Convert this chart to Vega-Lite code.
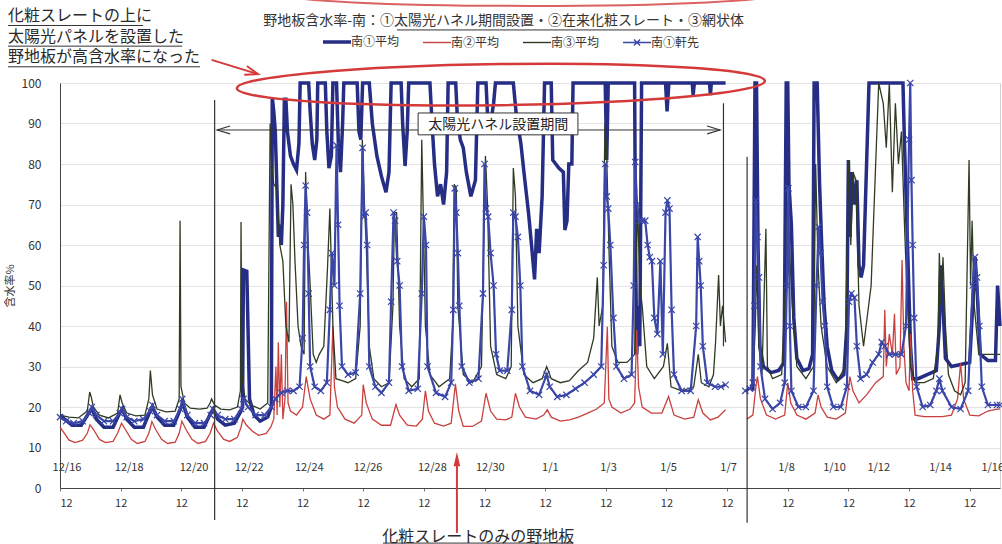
{
  "$schema": "https://vega.github.io/schema/vega-lite/v6.json",
  "width": 940,
  "height": 405,
  "autosize": "none",
  "padding": {"left": 60, "top": 83, "right": 2, "bottom": 56},
  "background": "white",
  "config": {"font": "Noto Sans CJK JP", "view": {"stroke": "#d0d0d0"}},
  "datasets": {
    "navy": [{"d":0,"v":18},{"d":0.15,"v":17},{"d":0.4,"v":15.5},{"d":0.7,"v":15.5},{"d":0.95,"v":18.5},{"d":1.05,"v":19.5},{"d":1.2,"v":17},{"d":1.45,"v":15},{"d":1.75,"v":15},{"d":1.97,"v":18.5},{"d":2.05,"v":19.5},{"d":2.2,"v":17},{"d":2.45,"v":15},{"d":2.75,"v":15},{"d":2.97,"v":19},{"d":3.05,"v":20},{"d":3.2,"v":17.5},{"d":3.45,"v":15.5},{"d":3.75,"v":15.5},{"d":3.97,"v":19.5},{"d":4.05,"v":21},{"d":4.2,"v":17.5},{"d":4.45,"v":15},{"d":4.75,"v":15},{"d":4.97,"v":18.5},{"d":5.05,"v":19.5},{"d":5.2,"v":17},{"d":5.45,"v":15.5},{"d":5.75,"v":16},{"d":5.97,"v":19},{"d":6.02,"v":20},{"d":6.05,"v":53.8},{"d":6.16,"v":53.5},{"d":6.25,"v":22},{"d":6.4,"v":18},{"d":6.6,"v":16.5},{"d":6.85,"v":17.5},{"d":6.97,"v":20},{"d":7.0,"v":96.5},{"d":7.05,"v":93},{"d":7.1,"v":88},{"d":7.15,"v":75},{"d":7.2,"v":62},{"d":7.25,"v":65},{"d":7.3,"v":60},{"d":7.35,"v":70},{"d":7.4,"v":96},{"d":7.45,"v":96},{"d":7.5,"v":88},{"d":7.6,"v":82},{"d":7.7,"v":80},{"d":7.8,"v":78.5},{"d":7.88,"v":85},{"d":7.92,"v":100},{"d":8.2,"v":100},{"d":8.25,"v":93},{"d":8.32,"v":85},{"d":8.4,"v":81},{"d":8.47,"v":86},{"d":8.5,"v":100},{"d":8.75,"v":100},{"d":8.8,"v":88},{"d":8.87,"v":79},{"d":8.95,"v":82},{"d":9.0,"v":100},{"d":9.12,"v":100},{"d":9.18,"v":85},{"d":9.25,"v":78},{"d":9.32,"v":90},{"d":9.36,"v":100},{"d":9.8,"v":100},{"d":9.86,"v":88},{"d":9.92,"v":86},{"d":9.98,"v":100},{"d":10.2,"v":100},{"d":10.3,"v":90},{"d":10.45,"v":82},{"d":10.6,"v":77},{"d":10.75,"v":73},{"d":10.85,"v":78},{"d":10.92,"v":100},{"d":11.25,"v":100},{"d":11.3,"v":90},{"d":11.38,"v":79.5},{"d":11.45,"v":88},{"d":11.5,"v":100},{"d":12.2,"v":100},{"d":12.27,"v":90},{"d":12.35,"v":80},{"d":12.45,"v":72},{"d":12.55,"v":75},{"d":12.65,"v":70},{"d":12.75,"v":78},{"d":12.8,"v":100},{"d":13.05,"v":100},{"d":13.1,"v":92},{"d":13.2,"v":86},{"d":13.3,"v":84},{"d":13.4,"v":78},{"d":13.55,"v":72},{"d":13.7,"v":76},{"d":13.78,"v":100},{"d":14.05,"v":100},{"d":14.1,"v":92},{"d":14.2,"v":90},{"d":14.3,"v":95},{"d":14.36,"v":100},{"d":14.95,"v":100},{"d":15.05,"v":92},{"d":15.2,"v":85},{"d":15.3,"v":78},{"d":15.45,"v":68},{"d":15.55,"v":60},{"d":15.65,"v":51.5},{"d":15.72,"v":64},{"d":15.8,"v":58},{"d":15.9,"v":72},{"d":15.98,"v":100},{"d":16.2,"v":100},{"d":16.25,"v":81},{"d":16.45,"v":79},{"d":16.6,"v":78},{"d":16.65,"v":63.7},{"d":16.72,"v":66},{"d":16.78,"v":80},{"d":16.88,"v":80},{"d":16.92,"v":100},{"d":17.98,"v":100},{"d":18.03,"v":81},{"d":18.08,"v":100},{"d":18.95,"v":100},{"d":18.98,"v":60},{"d":19.02,"v":33},{"d":19.08,"v":45},{"d":19.12,"v":35},{"d":19.18,"v":100},{"d":19.97,"v":100},{"d":20.02,"v":93},{"d":20.08,"v":100},{"d":20.85,"v":100},{"d":20.88,"v":97},{"d":20.92,"v":100},{"d":21.42,"v":100},{"d":21.45,"v":97},{"d":21.48,"v":100},{"d":21.95,"v":100},{"d":22.3,"v":null},{"d":22.85,"v":24},{"d":22.92,"v":100},{"d":22.97,"v":100},{"d":23.02,"v":60},{"d":23.08,"v":35},{"d":23.2,"v":30},{"d":23.45,"v":28.5},{"d":23.7,"v":29},{"d":23.88,"v":31},{"d":23.95,"v":100},{"d":24.0,"v":100},{"d":24.04,"v":75},{"d":24.12,"v":65},{"d":24.2,"v":42},{"d":24.3,"v":32},{"d":24.5,"v":29},{"d":24.7,"v":29.5},{"d":24.82,"v":33},{"d":24.87,"v":100},{"d":24.97,"v":100},{"d":25.05,"v":75},{"d":25.12,"v":60},{"d":25.2,"v":45},{"d":25.3,"v":35},{"d":25.45,"v":29},{"d":25.65,"v":26.7},{"d":25.85,"v":28},{"d":25.95,"v":40},{"d":26.0,"v":81},{"d":26.05,"v":62},{"d":26.12,"v":78},{"d":26.2,"v":70},{"d":26.28,"v":76},{"d":26.35,"v":55},{"d":26.42,"v":52},{"d":26.5,"v":55},{"d":26.6,"v":80},{"d":26.68,"v":100},{"d":27.8,"v":100},{"d":27.85,"v":85},{"d":27.95,"v":60},{"d":28.05,"v":35},{"d":28.12,"v":27},{"d":28.3,"v":27},{"d":28.6,"v":28},{"d":28.9,"v":29},{"d":29.0,"v":40},{"d":29.05,"v":55},{"d":29.12,"v":45},{"d":29.2,"v":32},{"d":29.4,"v":30},{"d":29.7,"v":30.5},{"d":30.0,"v":31},{"d":30.1,"v":45},{"d":30.18,"v":57},{"d":30.25,"v":48},{"d":30.35,"v":33},{"d":30.6,"v":31.5},{"d":30.85,"v":31.5},{"d":30.92,"v":50},{"d":31,"v":40}],
    "red": [{"d":0,"v":15},{"d":0.1,"v":14},{"d":0.3,"v":11.8},{"d":0.5,"v":11.2},{"d":0.75,"v":11.8},{"d":0.9,"v":13.5},{"d":0.99,"v":15.6},{"d":1.1,"v":14.5},{"d":1.3,"v":12},{"d":1.5,"v":11.2},{"d":1.75,"v":11.5},{"d":1.9,"v":13.5},{"d":2.03,"v":16},{"d":2.15,"v":14.5},{"d":2.35,"v":12},{"d":2.55,"v":11},{"d":2.8,"v":11.5},{"d":2.93,"v":13.5},{"d":3.03,"v":16.4},{"d":3.15,"v":14.5},{"d":3.35,"v":12},{"d":3.55,"v":11},{"d":3.8,"v":11.3},{"d":3.93,"v":13.5},{"d":4.02,"v":16.5},{"d":4.15,"v":14.5},{"d":4.35,"v":12},{"d":4.55,"v":11},{"d":4.8,"v":11.5},{"d":4.95,"v":13.5},{"d":5.06,"v":16},{"d":5.2,"v":14},{"d":5.4,"v":12},{"d":5.6,"v":11.5},{"d":5.85,"v":12.5},{"d":5.97,"v":15},{"d":6.03,"v":17},{"d":6.15,"v":15.5},{"d":6.35,"v":14},{"d":6.55,"v":13},{"d":6.8,"v":13.5},{"d":6.95,"v":15},{"d":7.05,"v":17},{"d":7.12,"v":30},{"d":7.16,"v":18},{"d":7.2,"v":36},{"d":7.25,"v":20},{"d":7.3,"v":33},{"d":7.35,"v":17},{"d":7.42,"v":22},{"d":7.47,"v":46},{"d":7.52,"v":21},{"d":7.6,"v":19},{"d":7.8,"v":18},{"d":8.0,"v":20},{"d":8.12,"v":27.5},{"d":8.25,"v":22},{"d":8.45,"v":18},{"d":8.7,"v":17},{"d":8.9,"v":18},{"d":9.0,"v":40},{"d":9.05,"v":25},{"d":9.15,"v":20},{"d":9.4,"v":17},{"d":9.7,"v":16},{"d":9.95,"v":18},{"d":10.0,"v":25.5},{"d":10.1,"v":21},{"d":10.3,"v":17},{"d":10.6,"v":15.5},{"d":10.9,"v":15.5},{"d":11.08,"v":20.6},{"d":11.2,"v":18},{"d":11.45,"v":15.5},{"d":11.75,"v":15.3},{"d":11.95,"v":17},{"d":12.05,"v":24},{"d":12.15,"v":19},{"d":12.35,"v":16},{"d":12.65,"v":15.3},{"d":12.9,"v":16},{"d":13.04,"v":25.7},{"d":13.15,"v":19},{"d":13.3,"v":15.2},{"d":13.6,"v":15.2},{"d":13.9,"v":16.5},{"d":14.05,"v":23.4},{"d":14.2,"v":19},{"d":14.4,"v":17},{"d":14.7,"v":16.8},{"d":14.9,"v":17.5},{"d":15.02,"v":23.4},{"d":15.15,"v":20},{"d":15.35,"v":17.5},{"d":15.7,"v":17},{"d":15.95,"v":18},{"d":16.07,"v":19.3},{"d":16.2,"v":17.5},{"d":16.5,"v":16.5},{"d":16.8,"v":16.8},{"d":17.1,"v":17.5},{"d":17.4,"v":18.5},{"d":17.7,"v":19.5},{"d":17.95,"v":21},{"d":18.05,"v":39.8},{"d":18.1,"v":22},{"d":18.2,"v":20},{"d":18.5,"v":18.5},{"d":18.8,"v":19.5},{"d":18.95,"v":21},{"d":19.02,"v":39},{"d":19.08,"v":25},{"d":19.2,"v":20},{"d":19.5,"v":18.5},{"d":19.85,"v":18.5},{"d":20.07,"v":22.6},{"d":20.25,"v":18},{"d":20.6,"v":17},{"d":20.9,"v":17.5},{"d":21.05,"v":21.8},{"d":21.2,"v":18.5},{"d":21.45,"v":16.8},{"d":21.7,"v":17.5},{"d":21.95,"v":19.3},{"d":22.3,"v":null},{"d":22.65,"v":17},{"d":22.85,"v":18},{"d":22.95,"v":25},{"d":23.0,"v":27.5},{"d":23.1,"v":22},{"d":23.3,"v":18},{"d":23.6,"v":17},{"d":23.9,"v":18},{"d":24.0,"v":26},{"d":24.1,"v":21},{"d":24.3,"v":18},{"d":24.6,"v":17},{"d":24.9,"v":18.5},{"d":25.0,"v":23},{"d":25.1,"v":20},{"d":25.3,"v":17.5},{"d":25.6,"v":17},{"d":25.9,"v":18.5},{"d":26.05,"v":27.5},{"d":26.15,"v":24},{"d":26.35,"v":21},{"d":26.6,"v":23},{"d":26.9,"v":26},{"d":27.15,"v":27.5},{"d":27.2,"v":44},{"d":27.25,"v":30},{"d":27.35,"v":38},{"d":27.45,"v":33},{"d":27.52,"v":43},{"d":27.58,"v":28},{"d":27.7,"v":30},{"d":27.77,"v":56.3},{"d":27.83,"v":35},{"d":27.9,"v":26},{"d":28.0,"v":24},{"d":28.05,"v":38},{"d":28.12,"v":24},{"d":28.2,"v":18},{"d":28.5,"v":17.6},{"d":28.8,"v":17.6},{"d":29.1,"v":17.6},{"d":29.4,"v":18},{"d":29.6,"v":22},{"d":29.7,"v":30.8},{"d":29.8,"v":22},{"d":30.0,"v":18},{"d":30.3,"v":17.8},{"d":30.6,"v":19},{"d":30.9,"v":19.5},{"d":31,"v":19.5}],
    "green": [{"d":0,"v":18},{"d":0.3,"v":17.5},{"d":0.6,"v":17.3},{"d":0.9,"v":19},{"d":0.98,"v":23.7},{"d":1.03,"v":22.5},{"d":1.1,"v":20},{"d":1.3,"v":18},{"d":1.6,"v":17.3},{"d":1.9,"v":18.5},{"d":1.98,"v":23},{"d":2.05,"v":21},{"d":2.2,"v":18.5},{"d":2.5,"v":17.8},{"d":2.8,"v":18},{"d":2.93,"v":22},{"d":2.98,"v":29},{"d":3.05,"v":23},{"d":3.2,"v":19.5},{"d":3.5,"v":18.8},{"d":3.8,"v":19},{"d":3.93,"v":22},{"d":3.96,"v":66},{"d":3.99,"v":25},{"d":4.1,"v":21},{"d":4.3,"v":19.7},{"d":4.6,"v":19.5},{"d":4.85,"v":19.7},{"d":4.95,"v":21},{"d":5.0,"v":22},{"d":5.1,"v":20.5},{"d":5.3,"v":19.5},{"d":5.6,"v":19.3},{"d":5.85,"v":20},{"d":5.95,"v":24},{"d":5.97,"v":65.7},{"d":6.0,"v":28},{"d":6.1,"v":22},{"d":6.3,"v":20.5},{"d":6.6,"v":19.5},{"d":6.85,"v":21},{"d":6.93,"v":90},{"d":6.98,"v":80},{"d":7.05,"v":75},{"d":7.15,"v":74},{"d":7.25,"v":60},{"d":7.35,"v":56},{"d":7.45,"v":40},{"d":7.55,"v":36},{"d":7.62,"v":75},{"d":7.68,"v":70},{"d":7.75,"v":56},{"d":7.85,"v":40},{"d":7.95,"v":35},{"d":8.05,"v":33},{"d":8.1,"v":78},{"d":8.15,"v":65},{"d":8.25,"v":50},{"d":8.35,"v":33},{"d":8.45,"v":31},{"d":8.55,"v":33},{"d":8.7,"v":35},{"d":8.82,"v":54},{"d":8.9,"v":69},{"d":9.0,"v":40},{"d":9.1,"v":27},{"d":9.3,"v":26.5},{"d":9.5,"v":26},{"d":9.75,"v":27},{"d":9.9,"v":40},{"d":9.97,"v":86},{"d":10.05,"v":68},{"d":10.1,"v":60},{"d":10.2,"v":35},{"d":10.35,"v":27},{"d":10.6,"v":25},{"d":10.85,"v":26},{"d":10.98,"v":45},{"d":11.03,"v":68},{"d":11.1,"v":68},{"d":11.2,"v":40},{"d":11.35,"v":27},{"d":11.6,"v":25},{"d":11.85,"v":27},{"d":11.93,"v":86},{"d":12.0,"v":60},{"d":12.05,"v":40},{"d":12.2,"v":28},{"d":12.5,"v":25},{"d":12.85,"v":27},{"d":12.95,"v":40},{"d":13.0,"v":75},{"d":13.07,"v":74},{"d":13.12,"v":45},{"d":13.3,"v":28},{"d":13.6,"v":26},{"d":13.9,"v":30},{"d":13.97,"v":60},{"d":14.03,"v":82},{"d":14.1,"v":70},{"d":14.2,"v":35},{"d":14.4,"v":28},{"d":14.7,"v":27},{"d":14.88,"v":30},{"d":14.95,"v":79},{"d":15.02,"v":72},{"d":15.1,"v":40},{"d":15.3,"v":28},{"d":15.6,"v":26},{"d":15.9,"v":27},{"d":16.05,"v":30},{"d":16.2,"v":27},{"d":16.5,"v":26},{"d":16.8,"v":26.5},{"d":17.1,"v":29},{"d":17.4,"v":31},{"d":17.6,"v":37},{"d":17.72,"v":52},{"d":17.78,"v":40},{"d":17.9,"v":45},{"d":17.97,"v":90},{"d":18.03,"v":82},{"d":18.1,"v":60},{"d":18.2,"v":35},{"d":18.4,"v":31},{"d":18.7,"v":31},{"d":18.95,"v":33},{"d":19.0,"v":55},{"d":19.05,"v":70},{"d":19.12,"v":50},{"d":19.2,"v":45},{"d":19.35,"v":30},{"d":19.6,"v":27},{"d":19.9,"v":30},{"d":20.03,"v":35.7},{"d":20.15,"v":25},{"d":20.5,"v":24},{"d":20.9,"v":25},{"d":21.05,"v":33},{"d":21.15,"v":26},{"d":21.4,"v":25},{"d":21.55,"v":28},{"d":21.62,"v":36},{"d":21.72,"v":52.6},{"d":21.78,"v":40},{"d":21.85,"v":45},{"d":21.95,"v":36},{"d":22.3,"v":null},{"d":22.85,"v":26},{"d":22.93,"v":40},{"d":22.98,"v":55},{"d":23.05,"v":35},{"d":23.15,"v":28},{"d":23.28,"v":64},{"d":23.33,"v":30},{"d":23.5,"v":27},{"d":23.8,"v":28},{"d":23.95,"v":55},{"d":24.0,"v":70},{"d":24.05,"v":60},{"d":24.15,"v":45},{"d":24.3,"v":30},{"d":24.6,"v":27},{"d":24.85,"v":30},{"d":24.92,"v":80},{"d":25.0,"v":55},{"d":25.1,"v":40},{"d":25.3,"v":30},{"d":25.6,"v":26},{"d":25.9,"v":30},{"d":26.0,"v":81},{"d":26.08,"v":60},{"d":26.15,"v":78},{"d":26.25,"v":76},{"d":26.35,"v":45},{"d":26.5,"v":35},{"d":26.75,"v":50},{"d":26.9,"v":80},{"d":27.0,"v":100},{"d":27.15,"v":95},{"d":27.25,"v":84},{"d":27.35,"v":100},{"d":27.45,"v":73},{"d":27.55,"v":95},{"d":27.65,"v":80},{"d":27.75,"v":88},{"d":27.85,"v":65},{"d":27.95,"v":45},{"d":28.05,"v":30},{"d":28.2,"v":26},{"d":28.5,"v":26},{"d":28.8,"v":27},{"d":28.95,"v":35},{"d":29.0,"v":58},{"d":29.05,"v":45},{"d":29.12,"v":57},{"d":29.2,"v":40},{"d":29.3,"v":28},{"d":29.5,"v":24},{"d":29.7,"v":23},{"d":29.85,"v":26},{"d":29.98,"v":81},{"d":30.03,"v":50},{"d":30.08,"v":66},{"d":30.15,"v":45},{"d":30.3,"v":33},{"d":30.6,"v":33},{"d":30.9,"v":33},{"d":31,"v":33}],
    "blue": [{"d":0,"v":17.5},{"d":0.2,"v":16.5},{"d":0.45,"v":16},{"d":0.75,"v":16.5},{"d":0.97,"v":18.5},{"d":1.05,"v":20},{"d":1.2,"v":18},{"d":1.45,"v":16.5},{"d":1.75,"v":16.5},{"d":1.97,"v":18.5},{"d":2.05,"v":19.5},{"d":2.2,"v":17.5},{"d":2.45,"v":16.5},{"d":2.75,"v":17},{"d":2.97,"v":19},{"d":3.05,"v":20.5},{"d":3.2,"v":18},{"d":3.45,"v":16.5},{"d":3.75,"v":16.5},{"d":3.97,"v":19.5},{"d":4.03,"v":22},{"d":4.2,"v":18},{"d":4.45,"v":16},{"d":4.75,"v":16},{"d":4.97,"v":18},{"d":5.05,"v":19.5},{"d":5.2,"v":18},{"d":5.45,"v":17},{"d":5.75,"v":17},{"d":5.97,"v":19.5},{"d":6.05,"v":22},{"d":6.2,"v":20},{"d":6.45,"v":18},{"d":6.75,"v":18},{"d":6.97,"v":20},{"d":7.1,"v":22},{"d":7.3,"v":23.5},{"d":7.5,"v":24},{"d":7.7,"v":24},{"d":7.9,"v":25},{"d":8.0,"v":37},{"d":8.05,"v":60},{"d":8.1,"v":74.7},{"d":8.15,"v":68},{"d":8.2,"v":48},{"d":8.25,"v":30},{"d":8.4,"v":25},{"d":8.6,"v":24},{"d":8.8,"v":26},{"d":8.9,"v":44},{"d":8.97,"v":58},{"d":9.05,"v":50},{"d":9.12,"v":84.6},{"d":9.17,"v":65},{"d":9.22,"v":45},{"d":9.3,"v":30},{"d":9.5,"v":28},{"d":9.75,"v":28.5},{"d":9.9,"v":48},{"d":9.98,"v":84},{"d":10.03,"v":67},{"d":10.08,"v":68},{"d":10.13,"v":60},{"d":10.2,"v":30},{"d":10.4,"v":25},{"d":10.6,"v":23.5},{"d":10.85,"v":26},{"d":10.92,"v":46},{"d":11.0,"v":68},{"d":11.05,"v":66},{"d":11.12,"v":56},{"d":11.2,"v":50},{"d":11.28,"v":30},{"d":11.5,"v":24},{"d":11.8,"v":24.5},{"d":11.93,"v":48},{"d":12.0,"v":67},{"d":12.07,"v":60},{"d":12.12,"v":30},{"d":12.4,"v":23.5},{"d":12.7,"v":22.5},{"d":12.9,"v":26},{"d":12.97,"v":44},{"d":13.02,"v":74},{"d":13.07,"v":68},{"d":13.12,"v":58},{"d":13.17,"v":45},{"d":13.25,"v":30},{"d":13.5,"v":26},{"d":13.8,"v":27},{"d":13.95,"v":48},{"d":14.0,"v":80},{"d":14.05,"v":69},{"d":14.12,"v":67},{"d":14.2,"v":58},{"d":14.3,"v":50},{"d":14.38,"v":33},{"d":14.5,"v":29},{"d":14.75,"v":29},{"d":14.9,"v":44},{"d":14.95,"v":68},{"d":15.02,"v":67},{"d":15.1,"v":62},{"d":15.18,"v":50},{"d":15.25,"v":30},{"d":15.5,"v":24},{"d":15.8,"v":23},{"d":16.05,"v":28},{"d":16.15,"v":25},{"d":16.4,"v":22.5},{"d":16.7,"v":23},{"d":17.0,"v":24.5},{"d":17.3,"v":26},{"d":17.6,"v":28},{"d":17.85,"v":30},{"d":17.93,"v":55},{"d":17.98,"v":80},{"d":18.03,"v":72},{"d":18.08,"v":69},{"d":18.15,"v":60},{"d":18.25,"v":42},{"d":18.35,"v":30},{"d":18.6,"v":27},{"d":18.85,"v":28},{"d":18.92,"v":50},{"d":18.97,"v":80.5},{"d":19.03,"v":70},{"d":19.1,"v":66},{"d":19.2,"v":66},{"d":19.3,"v":66},{"d":19.38,"v":60},{"d":19.45,"v":57},{"d":19.52,"v":56},{"d":19.6,"v":42},{"d":19.7,"v":38},{"d":19.8,"v":56},{"d":19.88,"v":33},{"d":19.97,"v":68},{"d":20.03,"v":71},{"d":20.1,"v":69},{"d":20.17,"v":44},{"d":20.25,"v":28},{"d":20.5,"v":24},{"d":20.8,"v":24},{"d":20.98,"v":40},{"d":21.03,"v":62},{"d":21.08,"v":56},{"d":21.13,"v":50},{"d":21.2,"v":35},{"d":21.35,"v":26},{"d":21.6,"v":25},{"d":21.8,"v":25},{"d":21.95,"v":25.5},{"d":22.3,"v":null},{"d":22.6,"v":24},{"d":22.75,"v":24.5},{"d":22.85,"v":26},{"d":22.9,"v":45},{"d":22.95,"v":71},{"d":23.0,"v":62},{"d":23.05,"v":52},{"d":23.1,"v":30},{"d":23.25,"v":22},{"d":23.5,"v":19.5},{"d":23.75,"v":21},{"d":23.9,"v":26},{"d":23.97,"v":50},{"d":24.02,"v":74},{"d":24.07,"v":40},{"d":24.12,"v":24},{"d":24.35,"v":20},{"d":24.6,"v":20},{"d":24.85,"v":24},{"d":24.95,"v":50},{"d":25.02,"v":64.5},{"d":25.08,"v":58},{"d":25.15,"v":46},{"d":25.22,"v":40},{"d":25.3,"v":25},{"d":25.5,"v":20},{"d":25.75,"v":20},{"d":25.95,"v":25},{"d":26.02,"v":46},{"d":26.1,"v":48},{"d":26.2,"v":47},{"d":26.28,"v":35},{"d":26.4,"v":27},{"d":26.6,"v":28},{"d":26.8,"v":31},{"d":27.0,"v":33},{"d":27.1,"v":36},{"d":27.2,"v":35},{"d":27.35,"v":33},{"d":27.55,"v":33},{"d":27.75,"v":33},{"d":27.9,"v":40},{"d":28.0,"v":86},{"d":28.04,"v":100},{"d":28.08,"v":76},{"d":28.12,"v":60},{"d":28.17,"v":42},{"d":28.25,"v":25},{"d":28.45,"v":20},{"d":28.7,"v":20.5},{"d":28.9,"v":24},{"d":29.0,"v":27},{"d":29.1,"v":24},{"d":29.4,"v":20},{"d":29.7,"v":19.5},{"d":29.95,"v":24},{"d":30.1,"v":50},{"d":30.17,"v":57},{"d":30.24,"v":52},{"d":30.32,"v":40},{"d":30.4,"v":25},{"d":30.6,"v":20.5},{"d":30.9,"v":20.5},{"d":31,"v":20.5}],
    "dates": [{"label":"12/16","d":0.23},{"label":"12/18","d":2.28},{"label":"12/20","d":4.42},{"label":"12/22","d":6.24},{"label":"12/24","d":8.22},{"label":"12/26","d":10.16},{"label":"12/28","d":12.28},{"label":"12/30","d":14.19},{"label":"1/1","d":16.17},{"label":"1/3","d":18.09},{"label":"1/5","d":20.07},{"label":"1/7","d":22.05},{"label":"1/8","d":23.96},{"label":"1/10","d":25.54},{"label":"1/12","d":27.0},{"label":"1/14","d":29.04},{"label":"1/16","d":30.76}],
    "events": [{"event":"設置","d":5.1,"top":95.8,"bottom":-7.9},{"event":"撤去","d":21.88,"top":95,"bottom":35},{"event":"区切り","d":22.66,"top":81.8,"bottom":-8.6}]
  },
  "layer": [
    {
      "data": {"name": "navy"},
      "mark": {"type": "line", "strokeWidth": 3.5, "invalid": "break-paths-show-domains"},
      "encoding": {
        "x": {"field": "d", "type": "quantitative", "scale": {"domain": [0, 31], "nice": false, "zero": false},
          "axis": {"values": [0,1,2,3,4,5,6,7,8,9,10,11,12,13,14,15,16,17,18,19,20,21,22,23,24,25,26,27,28,29,30], "labelExpr": "'12'", "title": null, "grid": false, "domainColor": "#444", "tickColor": "#777", "tickSize": 3, "labelFontSize": 11, "labelColor": "#333", "labelPadding": 6}},
        "y": {"field": "v", "type": "quantitative", "scale": {"domain": [0, 100], "nice": false, "zero": false},
          "axis": {"values": [0,10,20,30,40,50,60,70,80,90,100], "title": "含水率%", "grid": true, "gridColor": "#e4e4e4", "domainColor": "#444", "ticks": false, "labelPadding": 19, "labelFontSize": 12, "labelColor": "#333", "titleFontSize": 11, "titleFontWeight": "normal", "titleColor": "#333", "titlePadding": 6}},
        "color": {"datum": "南①平均", "type": "nominal",
          "scale": {"domain": ["南①平均", "南②平均", "南③平均", "南①軒先"], "range": ["#262d85", "#c9413e", "#2f3b22", "#3a46a8"]},
          "legend": {"orient": "none", "legendX": 271, "legendY": -47, "direction": "horizontal", "title": null, "symbolType": "M-1,0L1,0", "symbolSize": 784, "symbolStrokeWidth": 1.4, "labelFontSize": 12, "labelColor": "#333", "labelOffset": 8, "columnPadding": 20, "padding": 0,
            "encode": {"symbols": {"update": {"strokeWidth": {"signal": "datum.value === '南①平均' ? 3.5 : 1.4"}, "shape": {"signal": "datum.value === '南①軒先' ? 'M-1,0L1,0M-0.22,-0.22L0.22,0.22M-0.22,0.22L0.22,-0.22' : 'M-1,0L1,0'"}}}}}}
      }
    },
    {
      "data": {"name": "red"},
      "mark": {"type": "line", "strokeWidth": 1.3, "invalid": "break-paths-show-domains"},
      "encoding": {"x": {"field": "d", "type": "quantitative"}, "y": {"field": "v", "type": "quantitative"}, "color": {"datum": "南②平均", "type": "nominal"}}
    },
    {
      "data": {"name": "green"},
      "mark": {"type": "line", "strokeWidth": 1.3, "invalid": "break-paths-show-domains"},
      "encoding": {"x": {"field": "d", "type": "quantitative"}, "y": {"field": "v", "type": "quantitative"}, "color": {"datum": "南③平均", "type": "nominal"}}
    },
    {
      "data": {"name": "blue"},
      "mark": {"type": "line", "strokeWidth": 2.2, "invalid": "break-paths-show-domains"},
      "encoding": {"x": {"field": "d", "type": "quantitative"}, "y": {"field": "v", "type": "quantitative"}, "color": {"datum": "南①軒先", "type": "nominal"}}
    },
    {
      "data": {"name": "blue"},
      "mark": {"type": "point", "shape": "M-1,-1L1,1M-1,1L1,-1", "filled": false, "size": 40, "strokeWidth": 1.2, "color": "#3a46a8", "opacity": 1},
      "encoding": {"x": {"field": "d", "type": "quantitative"}, "y": {"field": "v", "type": "quantitative"}}
    },
    {
      "data": {"name": "dates"},
      "mark": {"type": "text", "fontSize": 11, "color": "#333", "baseline": "middle", "align": "center"},
      "encoding": {"x": {"field": "d", "type": "quantitative"}, "y": {"datum": 5}, "text": {"field": "label"}}
    },
    {
      "data": {"name": "events"},
      "mark": {"type": "rule", "color": "#333", "strokeWidth": 1.2},
      "encoding": {"x": {"field": "d", "type": "quantitative"}, "y": {"field": "top", "type": "quantitative"}, "y2": {"field": "bottom"}}
    },
    {
      "data": {"values": [{}]},
      "mark": {"type": "rule", "color": "#333", "strokeWidth": 1},
      "encoding": {"x": {"datum": 5.18}, "x2": {"datum": 21.77}, "y": {"datum": 88.4}}
    },
    {
      "data": {"values": [{}]},
      "mark": {"type": "point", "shape": "M2,-0.6L0,0L2,0.6", "filled": false, "size": 169, "strokeWidth": 1.1, "color": "#333", "opacity": 1},
      "encoding": {"x": {"datum": 5.18}, "y": {"datum": 88.4}}
    },
    {
      "data": {"values": [{}]},
      "mark": {"type": "point", "shape": "M-2,-0.6L0,0L-2,0.6", "filled": false, "size": 169, "strokeWidth": 1.1, "color": "#333", "opacity": 1},
      "encoding": {"x": {"datum": 21.77}, "y": {"datum": 88.4}}
    },
    {
      "data": {"values": [{}]},
      "mark": {"type": "rect", "fill": "white", "stroke": "#333", "strokeWidth": 1},
      "encoding": {"x": {"datum": 11.81}, "x2": {"datum": 17.08}, "y": {"datum": 92.6}, "y2": {"datum": 87.2}}
    },
    {
      "data": {"values": [{}]},
      "mark": {"type": "text", "text": "太陽光ハネル設置期間", "fontSize": 14, "color": "#222", "align": "center", "baseline": "middle"},
      "encoding": {"x": {"datum": 14.45}, "y": {"datum": 89.7}}
    },
    {
      "data": {"values": [{}]},
      "mark": {"type": "point", "shape": "M-1,0A1,0.078,0,0,1,1,0A1,0.078,0,0,1,-1,0", "filled": false, "size": 278784, "strokeWidth": 2.5, "color": "#d43a3a", "opacity": 1, "angle": -0.8},
      "encoding": {"x": {"datum": 14.54}, "y": {"datum": 99.6}}
    },
    {
      "data": {"values": [{}]},
      "mark": {"type": "point", "shape": "M-1,0A1,0.048,0,0,1,1,0A1,0.048,0,0,1,-1,0", "filled": false, "size": 250000, "strokeWidth": 2, "color": "#d43a3a", "opacity": 0.8},
      "encoding": {"x": {"datum": 15.5}, "y": {"datum": 122}}
    },
    {
      "data": {"values": [{}]},
      "mark": {"type": "rule", "color": "#d43a3a", "strokeWidth": 2},
      "encoding": {"x": {"datum": 5.0}, "x2": {"datum": 6.53}, "y": {"datum": 105.7}, "y2": {"datum": 102.2}}
    },
    {
      "data": {"values": [{}]},
      "mark": {"type": "point", "shape": "M-2,-0.7L0,0L-2,0.7", "filled": false, "size": 169, "strokeWidth": 2, "color": "#d43a3a", "opacity": 1, "angle": 17},
      "encoding": {"x": {"datum": 6.53}, "y": {"datum": 102.2}}
    },
    {
      "data": {"values": [{}]},
      "mark": {"type": "rule", "color": "#d43a3a", "strokeWidth": 2},
      "encoding": {"x": {"datum": 13.09}, "y": {"datum": -11.1}, "y2": {"datum": 6}}
    },
    {
      "data": {"values": [{}]},
      "mark": {"type": "point", "shape": "M-0.55,2.4L0,0L0.55,2.4Z", "filled": true, "size": 144, "color": "#d43a3a", "opacity": 1},
      "encoding": {"x": {"datum": 13.09}, "y": {"datum": 8.9}}
    },
    {
      "data": {"values": [{}]},
      "mark": {"type": "text", "text": "野地板含水率-南：①太陽光ハネル期間設置・②在来化粧スレート・③網状体", "fontSize": 14, "color": "#333", "align": "center", "baseline": "middle"},
      "encoding": {"x": {"datum": 14.63}, "y": {"datum": 115.4}}
    },
    {
      "data": {"values": [{}]},
      "mark": {"type": "rule", "color": "#333", "strokeWidth": 1},
      "encoding": {"x": {"datum": 11.11}, "x2": {"datum": 20.78}, "y": {"datum": 113.1}}
    },
    {
      "data": {"values": [{}]},
      "mark": {"type": "text", "text": ["化粧スレートの上に", "太陽光パネルを設置した", "野地板が高含水率になった"], "fontSize": 16, "lineHeight": 20.5, "color": "#2a2a2a", "align": "left", "baseline": "top"},
      "encoding": {"x": {"datum": -1.715}, "y": {"datum": 118.5}}
    },
    {
      "data": {"values": [{}]},
      "mark": {"type": "rule", "color": "#333", "strokeWidth": 1},
      "encoding": {"x": {"datum": -1.715}, "x2": {"datum": 2.74}, "y": {"datum": 114.2}}
    },
    {
      "data": {"values": [{}]},
      "mark": {"type": "rule", "color": "#333", "strokeWidth": 1},
      "encoding": {"x": {"datum": -1.715}, "x2": {"datum": 4.03}, "y": {"datum": 109.1}}
    },
    {
      "data": {"values": [{}]},
      "mark": {"type": "rule", "color": "#333", "strokeWidth": 1},
      "encoding": {"x": {"datum": -1.715}, "x2": {"datum": 4.62}, "y": {"datum": 104.0}}
    },
    {
      "data": {"values": [{}]},
      "mark": {"type": "text", "text": "化粧スレートのみの野地板", "fontSize": 16, "color": "#2a2a2a", "align": "center", "baseline": "middle"},
      "encoding": {"x": {"datum": 13.79}, "y": {"datum": -12.1}}
    },
    {
      "data": {"values": [{}]},
      "mark": {"type": "rule", "color": "#333", "strokeWidth": 1},
      "encoding": {"x": {"datum": 10.65}, "x2": {"datum": 16.92}, "y": {"datum": -13.6}}
    }
  ]
}
